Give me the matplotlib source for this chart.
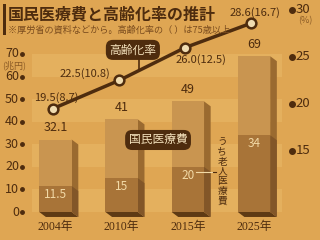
import matplotlib
matplotlib.use("Agg")
import matplotlib.pyplot as plt
from matplotlib.patches import Polygon, Rectangle

plt.rcParams['font.family'] = ['Noto Sans CJK JP', 'DejaVu Sans']

years = ["2004年", "2010年", "2015年", "2025年"]
total_cost = [32.1, 41, 49, 69]
elderly_cost = [11.5, 15, 20, 34]
aging_rate = [19.5, 22.5, 26.0, 28.6]
aging_75 = [8.7, 10.8, 12.5, 16.7]
left_ticks = [0, 10, 20, 30, 40, 50, 60, 70]
right_ticks = [15, 20, 25, 30]

BG = "#dfa653"
DARK = "#4e2c0e"
FRONT = "#c99550"
FRONT_LOW = "#a87438"
SIDE = "#9a6a30"
SIDE_LOW = "#825628"
SHADOW = "#5e3a14"

fig = plt.figure(figsize=(3.2, 2.4), dpi=100)
fig.patch.set_facecolor(BG)
ax = fig.add_axes([0, 0, 1, 1])
ax.set_facecolor(BG)
ax.set_xlim(-0.838, 3.997)
ax.set_ylim(-12.4, 93.9)
ax.axis("off")
ax2 = ax.twinx()
ax2.set_ylim(5.53, 31.06)
ax2.axis("off")

# background bands
for lo in range(0, 70, 20):
    ax.axhspan(lo, lo + 10, xmin=0.1, xmax=0.88, color="#e8b866", alpha=0.6, lw=0, zorder=0)

w = 0.49
d = 0.1
dd = 2.2
for i, (tot, old) in enumerate(zip(total_cost, elderly_cost)):
    x0, x1 = i - w / 2, i + w / 2
    ax.add_patch(Polygon([(x0, 0), (x1, 0), (x1 + d, -dd), (x0 + d, -dd)], closed=True,
                         color=SHADOW, lw=0, zorder=2))
    ax.add_patch(Polygon([(x1, tot), (x1 + d, tot - dd), (x1 + d, -dd), (x1, 0)], closed=True,
                         color=SIDE, lw=0, zorder=2))
    ax.add_patch(Polygon([(x1, old), (x1 + d, old - dd), (x1 + d, -dd), (x1, 0)], closed=True,
                         color=SIDE_LOW, lw=0, zorder=2))
    ax.add_patch(Rectangle((x0, old), w, tot - old, color=FRONT, lw=0, zorder=3))
    ax.add_patch(Rectangle((x0, 0), w, old, color=FRONT_LOW, lw=0, zorder=3))
    ax.text(i, tot + 2.5, f"{tot:g}", ha="center", va="bottom", fontsize=9, color=DARK, zorder=5)
    ax.text(i, old - 1.0, f"{old:g}", ha="center", va="top", fontsize=8.5, color="#f2d9a6", zorder=5)
    ax.text(i, -4.2, years[i], ha="center", va="top", fontsize=8.5, color=DARK,
            family=["Liberation Serif", "Noto Sans CJK JP"], zorder=5)

# left ticks
for t in left_ticks:
    ax.text(-0.55, t, f"{t}", ha="right", va="center", fontsize=9, color=DARK)
    ax.plot(-0.5, t, "o", ms=2.5, color=DARK)
ax.text(-0.62, 65.0, "(兆円)", ha="center", va="center", fontsize=6.5, color="#8a5a25")

# right ticks
for t in right_ticks:
    ax2.plot(3.57, t, "o", ms=4, color=DARK)
    ax2.text(3.63, t, f"{t}", ha="left", va="center", fontsize=9.5, color=DARK)
ax2.text(3.78, 28.9, "(%)", ha="center", va="center", fontsize=6.5, color="#8a5a25")

# line
xs = [i - 0.04 for i in range(4)]
ax2.plot(xs, aging_rate, "-", color=DARK, lw=2.5, zorder=6)
ax2.plot(xs, aging_rate, "o", ms=7, mfc="#f0dcb0", mec=DARK, mew=1.8, zorder=7)
offsets = [(0.05, 1.2), (-0.51, 0.75), (0.24, -1.28), (0.06, 1.17)]
for i, (r, r75) in enumerate(zip(aging_rate, aging_75)):
    ox, oy = offsets[i]
    ax2.text(xs[i] + ox, r + oy, f"{r:.1f}({r75})", ha="center", va="center",
             fontsize=8, color=DARK, zorder=8)

# labels
ax.plot([1.26, 1.26], [63.5, 70], color=DARK, lw=1.2, zorder=8)
ax.text(1.17, 71.8, "高齢化率", ha="center", va="center", fontsize=8.5, color="#f4e2bd",
        bbox=dict(boxstyle="round,pad=0.3,rounding_size=0.6", fc=DARK, ec="none"), zorder=9)
ax.text(1.55, 31.9, "国民医療費", ha="center", va="center", fontsize=8.5, color="#f4e2bd",
        bbox=dict(boxstyle="round,pad=0.3,rounding_size=0.6", fc=DARK, ec="none"), zorder=9)
ax.text(2.52, 18.0, "\n".join("うち老人医療費"), ha="center", va="center", fontsize=7,
        color=DARK, linespacing=0.98, zorder=9)
ax.plot([2.12, 2.38], [17.8, 17.8], color="#f2d9a6", lw=0.8, zorder=9)
ax.plot([2.38, 2.42], [17.8, 17.8], color=DARK, lw=0.8, zorder=9)

# title
fig.text(0.025, 0.94, "国民医療費と高齢化率の推計", ha="left", va="center", fontsize=11.5,
         weight="bold", color=DARK)
fig.add_artist(Rectangle((0.008, 0.855), 0.01, 0.13, transform=fig.transFigure, color=DARK, lw=0))
fig.text(0.025, 0.875, "※厚労省の資料などから。高齢化率の（ ）は75歳以上", ha="left", va="center",
         fontsize=6.6, color="#7a4c1e")

fig.savefig("out.png", dpi=100, facecolor=BG)
